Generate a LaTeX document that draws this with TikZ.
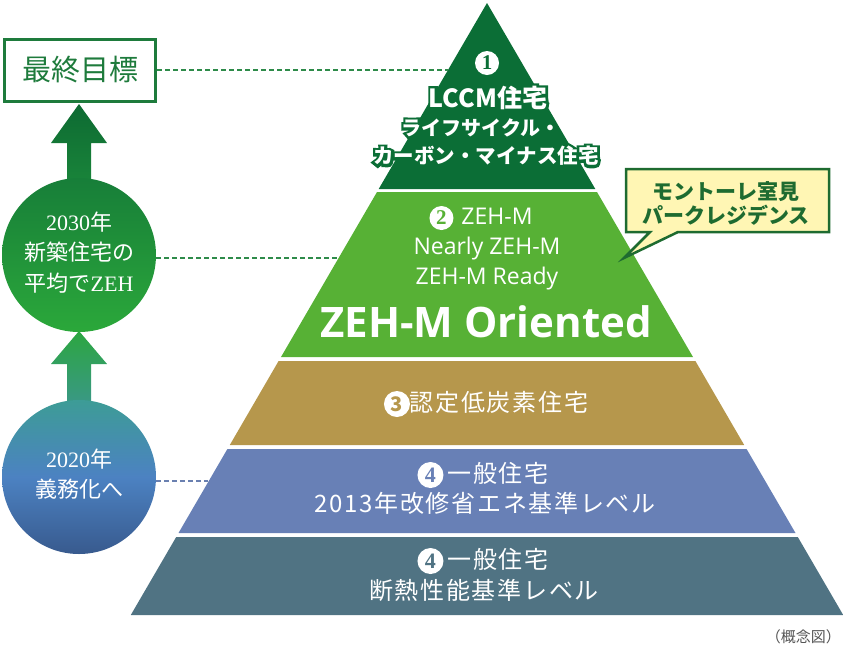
\documentclass[tikz,border=0pt]{standalone}
\usepackage{fontspec}
\setmainfont{Noto Sans CJK JP}
\newfontfamily\jpf{Noto Sans CJK JP}
\newfontfamily\osf{Open Sans}
\newfontfamily\serf{Liberation Serif}
\definecolor{tierA}{HTML}{0B6E36}
\definecolor{tierB}{HTML}{57B135}
\definecolor{tierC}{HTML}{B6974C}
\definecolor{tierD}{HTML}{6880B6}
\definecolor{tierE}{HTML}{507383}
\definecolor{goalgreen}{HTML}{1E7B3C}
\definecolor{dashgreen}{HTML}{2E8B4A}
\definecolor{dashblue}{HTML}{6A80B0}
\definecolor{calloutfill}{HTML}{FFF6B4}
\definecolor{calloutline}{HTML}{1E6B30}
\definecolor{arrowtopA}{HTML}{0D6A32}
\definecolor{arrowbotA}{HTML}{1C8A3C}
\definecolor{circtopA}{HTML}{177E39}
\definecolor{circbotA}{HTML}{2BA83A}
\definecolor{arrowtopB}{HTML}{2CA640}
\definecolor{arrowbotB}{HTML}{3C9690}
\definecolor{circtopB}{HTML}{3D9C96}
\definecolor{circmidB}{HTML}{4C82C2}
\definecolor{circbotB}{HTML}{385A8E}
\definecolor{notegray}{HTML}{555555}
\newcommand\fsz[1]{\fontsize{#1}{#1}\selectfont}
% circled digit: #1 name, #2 diameter, #3 colour, #4 font, #5 digit
\newcommand\cnum[5]{\tikz[baseline=(#1.base)]\node[circle,fill=white,inner sep=0pt,minimum size=#2,text=#3,font=#4](#1){#5};}
\tikzset{
  wtext/.style={text=white,inner sep=0pt,align=center},
  otext/.style={text=tierA,inner sep=0pt,align=center},
  dashA/.style={draw=dashgreen,line width=1.2pt,dash pattern=on 5pt off 3pt},
  dashB/.style={draw=dashblue,line width=1.2pt,dash pattern=on 5pt off 3pt},
  goalbox/.style={draw=goalgreen,line width=3pt,fill=white,minimum width=151pt,minimum height=62pt,text=goalgreen,inner sep=0pt,font=\fsz{29}},
  ballA/.style={circle,minimum size=154pt,inner sep=0pt,top color=circtopA,bottom color=circbotA,text=white,align=center},
  ballB/.style={circle,minimum size=154pt,inner sep=0pt,top color=circtopB,bottom color=circbotB,middle color=circmidB,text=white,align=center},
  btext/.style={text=white,inner sep=0pt,font=\fsz{22}},
  ttext/.style={text=white,inner sep=0pt,font=\fsz{24}\addfontfeature{LetterSpace=7}},
}
\begin{document}
\begin{tikzpicture}[x=1pt,y=-1pt]
\useasboundingbox (0,0) rectangle (843,649);
% pyramid tiers
\fill[tierA] (487,3) -- (595.3,189) -- (378.7,189) -- cycle;
\fill[tierB] (377.0,192) -- (597.0,192) -- (693.0,357) -- (281.0,357) -- cycle;
\fill[tierC] (278.6,361) -- (695.4,361) -- (744.2,445) -- (229.8,445) -- cycle;
\fill[tierD] (227.4,449) -- (746.6,449) -- (795.5,533) -- (178.5,533) -- cycle;
\fill[tierE] (176.2,537) -- (797.8,537) -- (843.2,615) -- (130.8,615) -- cycle;
\coordinate (edgeA) at (448,70);
\coordinate (edgeB) at (338,258);
\coordinate (edgeD) at (208,481);
% arrows
\coordinate (tipA) at (79,104);
\coordinate (tipB) at (79,331);
\shade[top color=arrowtopA,bottom color=arrowbotA] (tipA) -- (107,143) -- (91,143) -- (91,200) -- (67,200) -- (67,143) -- (51,143) -- cycle;
\shade[top color=arrowtopB,bottom color=arrowbotB] (tipB) -- (107,364) -- (91,364) -- (91,415) -- (67,415) -- (67,364) -- (51,364) -- cycle;
% left column
\node[goalbox] (goal) at (80,70) {最終目標};
\node[ballA] (y2030) at (79,255) {};
\node[ballB] (y2020) at (79,477) {};
\node[btext] (y2030a) at (79,222) {{\serf 2030}年};
\node[btext] (y2030b) at (79,252) {新築住宅の};
\node[btext] (y2030c) at (79,283) {平均で{\serf ZEH}};
\node[btext] (y2020a) at (79,459) {{\serf 2020}年};
\node[btext] (y2020b) at (79,489) {義務化へ};
% dashed connectors
\draw[dashA] (goal.east) -- (edgeA);
\draw[dashA] (y2030.east |- edgeB) -- (edgeB);
\draw[dashB] (y2020.east |- edgeD) -- (edgeD);
% tier 1 text (white with dark green outline)
\node[circle,fill=tierA,inner sep=0pt,minimum size=30pt] (n1o) at (487,63) {};
\node[circle,fill=white,inner sep=0pt,minimum size=24pt,text=tierA,font=\serf\bfseries\fsz{21}] (n1) at (487,63) {1};
\node[otext,font=\bfseries\fsz{25}\addfontfeature{FakeBold=22}] (t1ao) at (488,98) {LCCM住宅};
\node[otext,font=\bfseries\fsz{20}\addfontfeature{FakeBold=26}] (t1bo) at (481,128) {ライフサイクル・};
\node[otext,font=\bfseries\fsz{20.5}\addfontfeature{FakeBold=26}] (t1co) at (486,156) {カーボン・マイナス住宅};
\node[wtext,font=\bfseries\fsz{25}] (t1a) at (488,98) {LCCM住宅};
\node[wtext,font=\bfseries\fsz{20}] (t1b) at (481,128) {ライフサイクル・};
\node[wtext,font=\bfseries\fsz{20.5}] (t1c) at (486,156) {カーボン・マイナス住宅};
% tier 2 text
\node[wtext,font=\osf\fsz{23}] (t2a) at (481,218) {\cnum{c2}{24pt}{tierB}{\serf\bfseries\fsz{21}}{2}\hspace{8pt}ZEH-M};
\node[wtext,font=\osf\fsz{23}] (t2b) at (487,249) {Nearly ZEH-M};
\node[wtext,font=\osf\fsz{23}] (t2c) at (487,279) {ZEH-M Ready};
\node[wtext,font=\osf\bfseries\fsz{42}] (t2d) at (486,322) {ZEH-M Oriented};
% tier 3 text
\node[ttext] (t3) at (486,404) {\cnum{c3}{26pt}{tierC}{\bfseries\fsz{20}}{3}認定低炭素住宅};
% tier 4 text
\node[ttext] (t4a) at (483,475) {\cnum{c4}{26pt}{tierD}{\serf\bfseries\fsz{22}}{4}\hspace{4pt}一般住宅};
\node[ttext] (t4b) at (485,503) {2013年改修省エネ基準レベル};
% tier 5 text
\node[ttext] (t5a) at (483,561) {\cnum{c5}{26pt}{tierE}{\serf\bfseries\fsz{22}}{4}\hspace{4pt}一般住宅};
\node[ttext] (t5b) at (484,590) {断熱性能基準レベル};
% callout
\coordinate (cTip) at (624,258);
\filldraw[fill=calloutfill,draw=calloutline,line width=2.5pt,line join=miter] (626,169) -- (829,169) -- (829,232) -- (678,232) -- (cTip) -- (650,232) -- (626,232) -- cycle;
\node[text=notegray,font=\fsz{15},inner sep=0pt,anchor=east] (note) at (841,637) {（概念図）};
\node[text=calloutline,font=\bfseries\fsz{21},align=center,inner sep=0pt] (callout) at (726,203) {モントーレ室見\\[3pt]パークレジデンス};
\end{tikzpicture}
\end{document}
